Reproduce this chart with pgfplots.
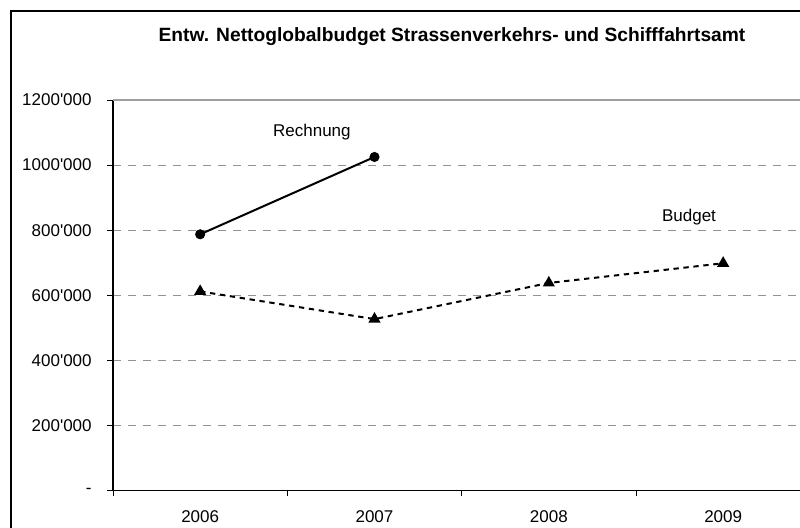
\documentclass[border=0pt]{standalone}
\usepackage{fontspec}
\setmainfont{Liberation Sans}[Ligatures=TeXOff]
\usepackage{pgfplots}
\pgfplotsset{compat=1.18}
\newcommand{\lbl}{\fontsize{12.75}{15}\selectfont}
\begin{document}
\begin{tikzpicture}
\clip (0,0) rectangle (600pt,-396pt);
\useasboundingbox (0,0) rectangle (600pt,-396pt);
\fill[white] (0,0) rectangle (600pt,-396pt);
\draw[line width=1.1pt] (8.25pt,-400pt) -- (8.25pt,-8.25pt) -- (610pt,-8.25pt);
\node[font=\bfseries\fontsize{14.4}{17}\selectfont, anchor=base] at (339pt,-31pt) {Entw. Nettoglobalbudget Strassenverkehrs- und Schifffahrtsamt};
\begin{axis}[
  at={(84.75pt,-368pt)}, anchor=south west,
  scale only axis, width=523pt, height=293pt,
  xmin=-0.5, xmax=3.5, ymin=0, ymax=1200000,
  clip=false,
  axis lines*=left,
  axis line style={black, line width=0.9pt, -},
  tick align=outside,
  xtick={0,1,2,3}, xticklabels={2006,2007,2008,2009},
  major x tick style={draw=none},
  minor xtick={-0.5,0.5,1.5,2.5,3.5},
  minor tick length=3.75pt,
  major tick length=4.5pt,
  minor x tick style={black, line width=0.7pt},
  major y tick style={black, line width=0.7pt},
  ytick={0,200000,400000,600000,800000,1000000,1200000},
  yticklabels={-,200'000,400'000,600'000,800'000,1000'000,1200'000},
  scaled y ticks=false,
  /pgf/number format/assume math mode=true,
  tick label style={font=\lbl},
  yticklabel style={xshift=-8pt},
  xticklabel style={yshift=-7pt},
  ymajorgrids,
  major grid style={gray!85, dash pattern=on 6pt off 5.25pt, line width=0.75pt},
]
\draw[gray!75, line width=1pt] (rel axis cs:0,1) -- (rel axis cs:1,1) -- (rel axis cs:1,0);
\addplot[black, line width=1.5pt, mark=*, mark size=3pt] coordinates {(0,787500) (1,1025000)};
\addplot[black, line width=1.5pt, dash pattern=on 4pt off 3.5pt, mark=triangle*, mark size=3.8pt, mark options={solid}] coordinates {(0,612000) (1,527000) (2,638000) (3,698500)};
\node[anchor=base, font=\lbl] at (axis cs:0.641,1089400) {Rechnung};
\node[anchor=base, font=\lbl] at (axis cs:2.804,826200) {Budget};
\end{axis}
\end{tikzpicture}
\end{document}
